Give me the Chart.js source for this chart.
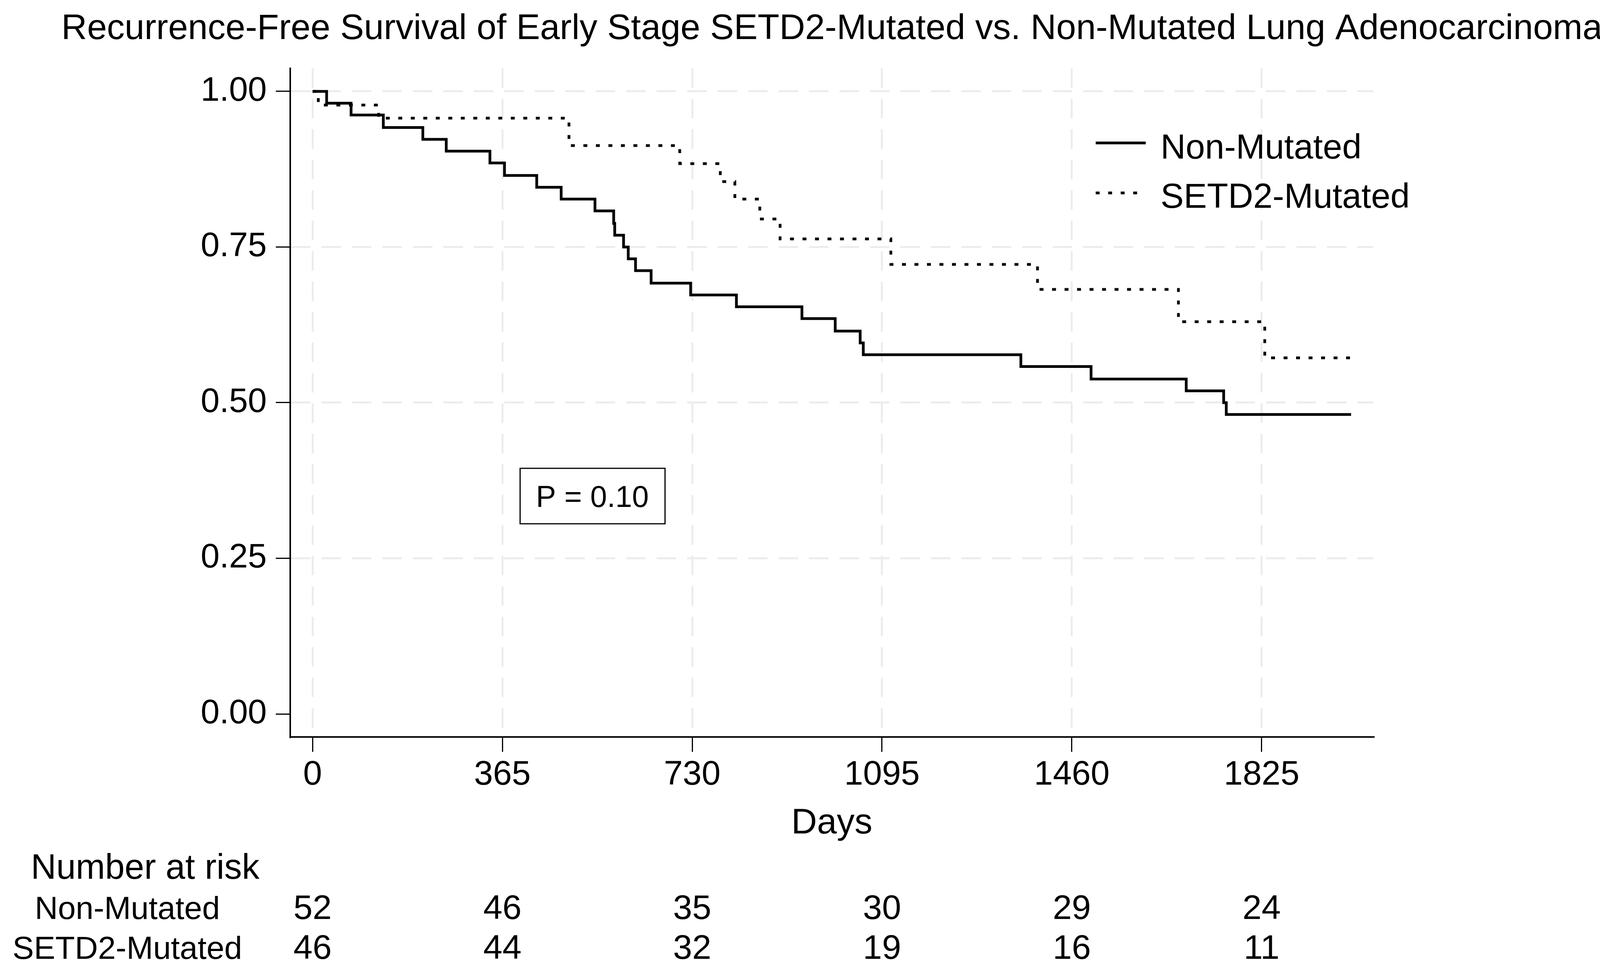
<!DOCTYPE html>
<html><head><meta charset="utf-8">
<script src="https://cdn.jsdelivr.net/npm/chart.js@4.4.1/dist/chart.umd.min.js"></script>
<style>html,body{margin:0;padding:0;background:#fff;} canvas{display:block;}</style>
</head><body>
<canvas id="c" width="4139" height="2499" style="width:4139px;height:2499px"></canvas>
<script>
// ---- data ----
const titleText = 'Recurrence-Free Survival of Early Stage SETD2-Mutated vs. Non-Mutated Lung Adenocarcinoma';
const seriesLabels = ['Non-Mutated', 'SETD2-Mutated'];
const nonMutDays = [0, 27, 74, 136, 212, 257, 341, 369, 431, 478, 543, 579, 581, 598, 607, 621, 651, 727, 815, 941, 1005, 1053, 1059, 1362, 1497, 1680, 1752, 1757, 1997];
const nonMutSurv = [1.000, 0.981, 0.962, 0.942, 0.923, 0.904, 0.885, 0.865, 0.846, 0.827, 0.808, 0.788, 0.769, 0.750, 0.731, 0.712, 0.692, 0.673, 0.654, 0.635, 0.615, 0.596, 0.577, 0.558, 0.538, 0.519, 0.500, 0.481, 0.481];
const setd2Days = [0, 11, 127, 493, 706, 784, 812, 860, 899, 1112, 1394, 1665, 1831, 1997];
const setd2Surv = [1.000, 0.978, 0.957, 0.913, 0.884, 0.855, 0.827, 0.795, 0.763, 0.722, 0.682, 0.630, 0.572, 0.572];
const xTicks = [0, 365, 730, 1095, 1460, 1825];
const yTicks = [0, 0.25, 0.50, 0.75, 1.00];
const riskTimes = [0, 365, 730, 1095, 1460, 1825];
const riskNonMut = [52, 46, 35, 30, 29, 24];
const riskSetd2 = [46, 44, 32, 19, 16, 11];
const pValueText = 'P = 0.10';
const xAxisTitle = 'Days';
const riskHeader = 'Number at risk';

const FONT = "'Liberation Sans', Arial, Helvetica, sans-serif";
const toPts = (xs, ys) => xs.map((v, i) => ({x: v, y: ys[i]}));

const overlay = {
  id: 'overlay',
  afterDraw(chart) {
    const {ctx, chartArea: ca, scales: {x, y}} = chart;
    ctx.save();
    ctx.fillStyle = '#000';
    ctx.strokeStyle = '#000';
    // title centred over plot region, fitted to the reference width
    ctx.font = `91px ${FONT}`;
    const tw = ctx.measureText(titleText).width;
    const tSize = Math.min(94, 91 * 3945 / tw);
    ctx.font = `${tSize}px ${FONT}`;
    ctx.textAlign = 'center';
    ctx.textBaseline = 'alphabetic';
    ctx.fillText(titleText, (ca.left + ca.right) / 2, 100);
    // legend inside plot
    const lx1 = ca.right - 711, lx2 = ca.right - 583, tx = ca.right - 545;
    const lineY = [ca.top + 191, ca.top + 319];
    const textY = [ca.top + 231, ca.top + 357];
    chart.data.datasets.forEach((d, i) => {
      ctx.beginPath();
      ctx.lineWidth = d.borderWidth;
      ctx.setLineDash(d.borderDash || []);
      ctx.moveTo(lx1, lineY[i]);
      ctx.lineTo(lx2, lineY[i]);
      ctx.stroke();
      ctx.setLineDash([]);
      ctx.font = `89px ${FONT}`;
      ctx.textAlign = 'left';
      ctx.fillText(d.label, tx, textY[i]);
    });
    // P-value box (positioned in data coordinates)
    const bx = x.getPixelForValue(538), by = y.getPixelForValue(0.35);
    ctx.lineWidth = 3;
    ctx.strokeRect(bx - 185, by - 71, 371, 142);
    ctx.font = `77px ${FONT}`;
    ctx.textAlign = 'center';
    ctx.fillText(pValueText, bx, by + 28);
    // number at risk table
    ctx.font = `90px ${FONT}`;
    ctx.textAlign = 'left';
    ctx.fillText(riskHeader, 79, 2250);
    ctx.font = `82px ${FONT}`;
    ctx.textAlign = 'center';
    ctx.fillText(seriesLabels[0], 326, 2353);
    ctx.fillText(seriesLabels[1], 326, 2455);
    ctx.font = `88px ${FONT}`;
    riskTimes.forEach((t, i) => {
      const px = x.getPixelForValue(t);
      ctx.fillText(String(riskNonMut[i]), px, 2353);
      ctx.fillText(String(riskSetd2[i]), px, 2455);
    });
    ctx.restore();
  }
};

new Chart(document.getElementById('c'), {
  type: 'line',
  data: {
    datasets: [
      {label: seriesLabels[0], data: toPts(nonMutDays, nonMutSurv), stepped: 'before', borderColor: '#000', borderWidth: 7, pointRadius: 0, fill: false, borderCapStyle: 'butt', borderJoinStyle: 'miter'},
      {label: seriesLabels[1], data: toPts(setd2Days, setd2Surv), stepped: 'before', borderColor: '#000', borderWidth: 7, borderDash: [10, 22], pointRadius: 0, fill: false, borderCapStyle: 'butt', borderJoinStyle: 'miter'}
    ]
  },
  options: {
    responsive: false,
    animation: false,
    devicePixelRatio: 1,
    layout: {padding: {top: 175, right: 623, left: 0, bottom: 335}},
    plugins: {legend: {display: false}, title: {display: false}, tooltip: {enabled: false}},
    scales: {
      x: {
        type: 'linear', min: -43, max: 2040,
        afterBuildTicks: s => { s.ticks = xTicks.map(v => ({value: v})); },
        afterFit: s => { s.height = 277; },
        ticks: {font: {family: FONT, size: 87}, color: '#000', padding: 8, maxRotation: 0, autoSkip: false, callback: v => String(v)},
        grid: {color: '#ececec', lineWidth: 5, tickColor: '#000', tickWidth: 3, tickLength: 38, tickBorderDash: []},
        border: {display: true, color: '#000', width: 4, dash: [50, 28]},
        title: {display: true, text: xAxisTitle, font: {family: FONT, size: 91}, color: '#000', padding: {top: 0, bottom: 0}}
      },
      y: {
        type: 'linear', min: -0.037, max: 1.037,
        afterBuildTicks: s => { s.ticks = yTicks.map(v => ({value: v})); },
        afterFit: s => { s.width = 743; },
        ticks: {font: {family: FONT, size: 87}, color: '#000', padding: 23, callback: v => Number(v).toFixed(2)},
        grid: {color: c => (c.tick && c.tick.value === 0) ? 'rgba(0,0,0,0)' : '#ececec', lineWidth: 5, tickColor: '#000', tickWidth: 3, tickLength: 37, tickBorderDash: []},
        border: {display: true, color: '#000', width: 4, dash: [50, 28]}
      }
    }
  },
  plugins: [overlay]
});
</script>
</body></html>
